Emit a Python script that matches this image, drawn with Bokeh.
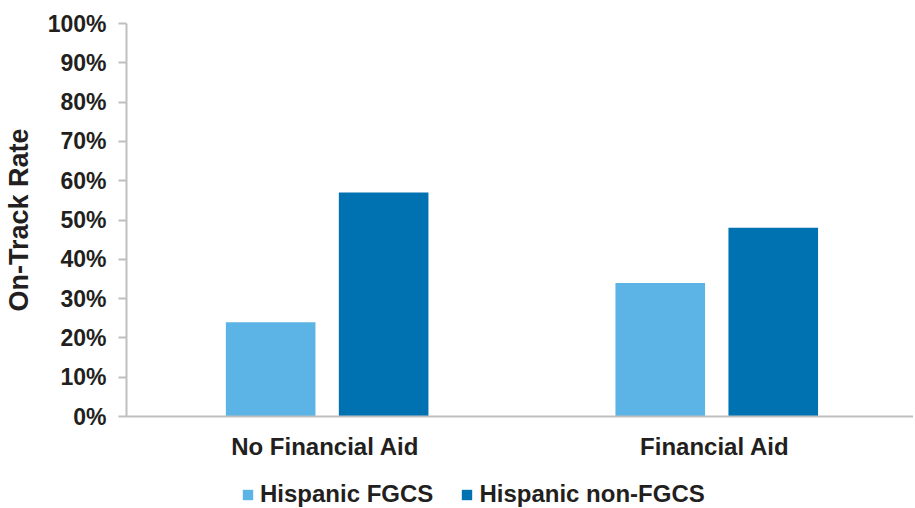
from bokeh.plotting import figure
from bokeh.models import ColumnDataSource, FactorRange, Range1d, NumeralTickFormatter, Legend, LegendItem, FixedTicker
from bokeh.layouts import column
from bokeh.transform import dodge
from bokeh.embed import file_html
from bokeh.resources import INLINE

categories = ["No Financial Aid", "Financial Aid"]
fgcs = [0.24, 0.34]
non_fgcs = [0.57, 0.48]
series_names = ["Hispanic FGCS", "Hispanic non-FGCS"]
colors = ["#5BB4E5", "#0072B2"]
y_ticks = [0, 0.1, 0.2, 0.3, 0.4, 0.5, 0.6, 0.7, 0.8, 0.9, 1.0]

source = ColumnDataSource(dict(cat=categories, fgcs=fgcs, non=non_fgcs))

FONT = "Liberation Sans"
TXT = "#231F20"

p = figure(width=913, height=468, output_backend="svg", toolbar_location=None,
           x_range=FactorRange(*categories, range_padding=0.01), y_range=Range1d(0, 1.0),
           min_border_left=122, min_border_right=0, min_border_top=23, min_border_bottom=52)
p.outline_line_color = None
p.xgrid.grid_line_color = None
p.ygrid.grid_line_color = None

p.vbar(x=dodge("cat", -0.14, range=p.x_range), top="fgcs", width=0.23, source=source,
       color=colors[0], line_color=None)
p.vbar(x=dodge("cat", 0.15, range=p.x_range), top="non", width=0.23, source=source,
       color=colors[1], line_color=None)

p.yaxis.ticker = FixedTicker(ticks=y_ticks)
p.yaxis.formatter = NumeralTickFormatter(format="0%")
p.yaxis.axis_label = "On-Track Rate"
for ax in (p.xaxis, p.yaxis):
    ax.axis_line_color = "#BFBFBF"
    ax.axis_line_width = 2
    ax.major_label_text_font = FONT
    ax.major_label_text_font_style = "bold"
    ax.major_label_text_color = TXT
    ax.minor_tick_line_color = None
p.yaxis.major_label_text_font_size = "23px"
p.xaxis.major_label_text_font_size = "24px"
p.yaxis.major_tick_line_color = "#BFBFBF"
p.yaxis.major_tick_line_width = 2
p.yaxis.major_tick_out = 8
p.yaxis.major_tick_in = 0
p.yaxis.major_label_standoff = 12
p.yaxis.axis_label_text_font = FONT
p.yaxis.axis_label_text_font_style = "bold"
p.yaxis.axis_label_text_font_size = "27px"
p.yaxis.axis_label_text_color = TXT
p.yaxis.axis_label_standoff = 11
p.xaxis.major_tick_line_color = None
p.xaxis.major_tick_out = 0
p.xaxis.major_tick_in = 0
p.xaxis.major_label_standoff = 16

# legend strip below the chart (dummy out-of-view renderers only feed the legend swatches)
lf = figure(width=913, height=40, output_backend="svg", toolbar_location=None,
            x_range=Range1d(0, 1), y_range=Range1d(0, 1),
            x_axis_location=None, y_axis_location=None,
            min_border_left=0, min_border_right=0, min_border_top=0, min_border_bottom=0)
lf.outline_line_color = None
lf.xgrid.grid_line_color = None
lf.ygrid.grid_line_color = None
lr1 = lf.vbar(x=[10], top=[1], width=0.5, fill_color=colors[0], line_color=None)
lr2 = lf.vbar(x=[10], top=[1], width=0.5, fill_color=colors[1], line_color=None)

legend = Legend(items=[LegendItem(label=series_names[0], renderers=[lr1]),
                       LegendItem(label=series_names[1], renderers=[lr2])],
                orientation="horizontal", location=(115, 0))
legend.label_text_font = FONT
legend.label_text_font_style = "bold"
legend.label_text_font_size = "24px"
legend.label_text_color = TXT
legend.label_height = 13
legend.glyph_width = 13
legend.glyph_height = 13
legend.label_standoff = 6
legend.spacing = 27
legend.padding = 0
legend.margin = 0
legend.border_line_color = None
legend.background_fill_alpha = 0
lf.add_layout(legend, "center")

layout = column(p, lf, spacing=0)

open("out.html", "w").write(file_html(layout, INLINE))
